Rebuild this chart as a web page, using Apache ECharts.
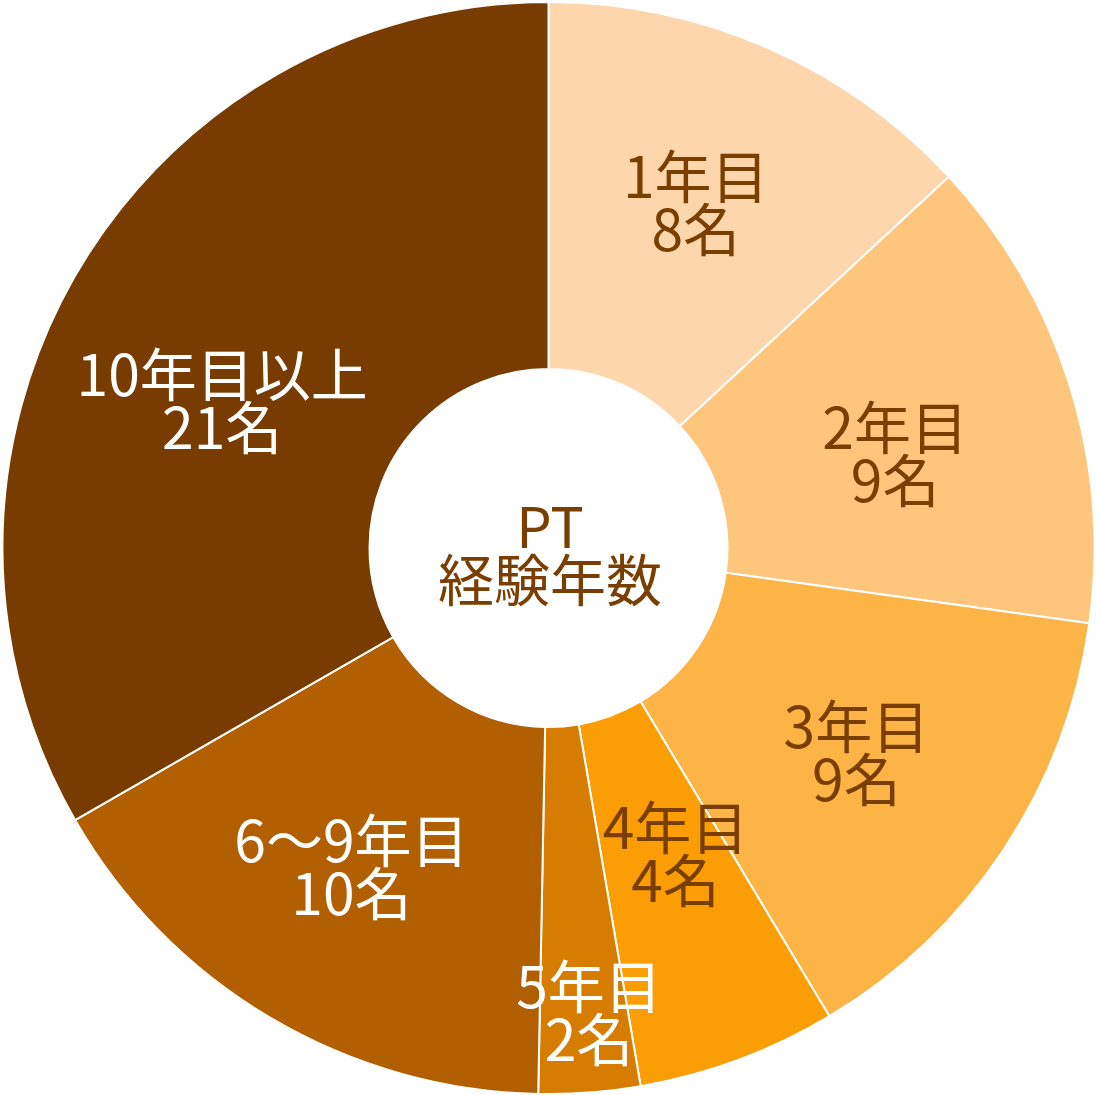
<!DOCTYPE html>
<html>
<head>
<meta charset="utf-8">
<script src="https://cdn.jsdelivr.net/npm/echarts@6/dist/echarts.min.js"></script>
<style>
  html, body { margin: 0; padding: 0; background: #fff; }
  #main { width: 1097px; height: 1095px; }
</style>
</head>
<body>
<div id="main"></div>
<script>
    var categories = ['1年目', '2年目', '3年目', '4年目', '5年目', '6～9年目', '10年目以上'];
    // 人数（ラベル表示）
    var counts = [8, 9, 9, 4, 2, 10, 21];
    // 扇の大きさ(%)は図から読み取った値
    var shares = [13.1, 14.1, 14.2, 5.9, 3.0, 16.4, 33.3];
    var colors = ['#FDD6AB', '#FEC57C', '#FDB446', '#FB9D04', '#D67C00', '#B15F00', '#783C00'];
    var labelColors = ['#7A3E00', '#7A3E00', '#7A3E00', '#7A3E00', '#fff', '#fff', '#fff'];
    // ラベル位置の微調整
    var labelShift = [[1, -10], [-2, 16], [3, 3], [0, -37], [13, 100], [-11, 4], [-10, 36]];

    var serdata = [];
    for (var i = 0; i < categories.length; i++) {
        serdata.push({
            name: categories[i],
            value: shares[i],
            count: counts[i],
            itemStyle: { color: colors[i] },
            label: { color: labelColors[i] }
        });
    }

    var option = {
        animation: false,
        backgroundColor: '#fff',
        graphic: [{
            type: 'text',
            x: 550,
            y: 553,
            style: {
                text: 'PT\n経験年数',
                font: '56px "Noto Sans CJK JP"',
                fill: '#7A3E00',
                textAlign: 'center',
                textVerticalAlign: 'middle',
                lineHeight: 53
            }
        }],
        series: [{
            type: 'pie',
            center: [548.5, 548],
            radius: [179, 546],
            startAngle: 90,
            clockwise: true,
            itemStyle: { borderColor: '#fff', borderWidth: 2 },
            label: {
                position: 'inside',
                formatter: function (p) { return p.name + '\n' + p.data.count + '名'; },
                fontFamily: 'Noto Sans CJK JP',
                fontSize: 57,
                lineHeight: 53
            },
            labelLayout: function (p) {
                return { dx: labelShift[p.dataIndex][0], dy: labelShift[p.dataIndex][1] };
            },
            data: serdata
        }]
    };

    var myChart = echarts.init(document.getElementById('main'));
    myChart.setOption(option);
</script>
</body>
</html>
